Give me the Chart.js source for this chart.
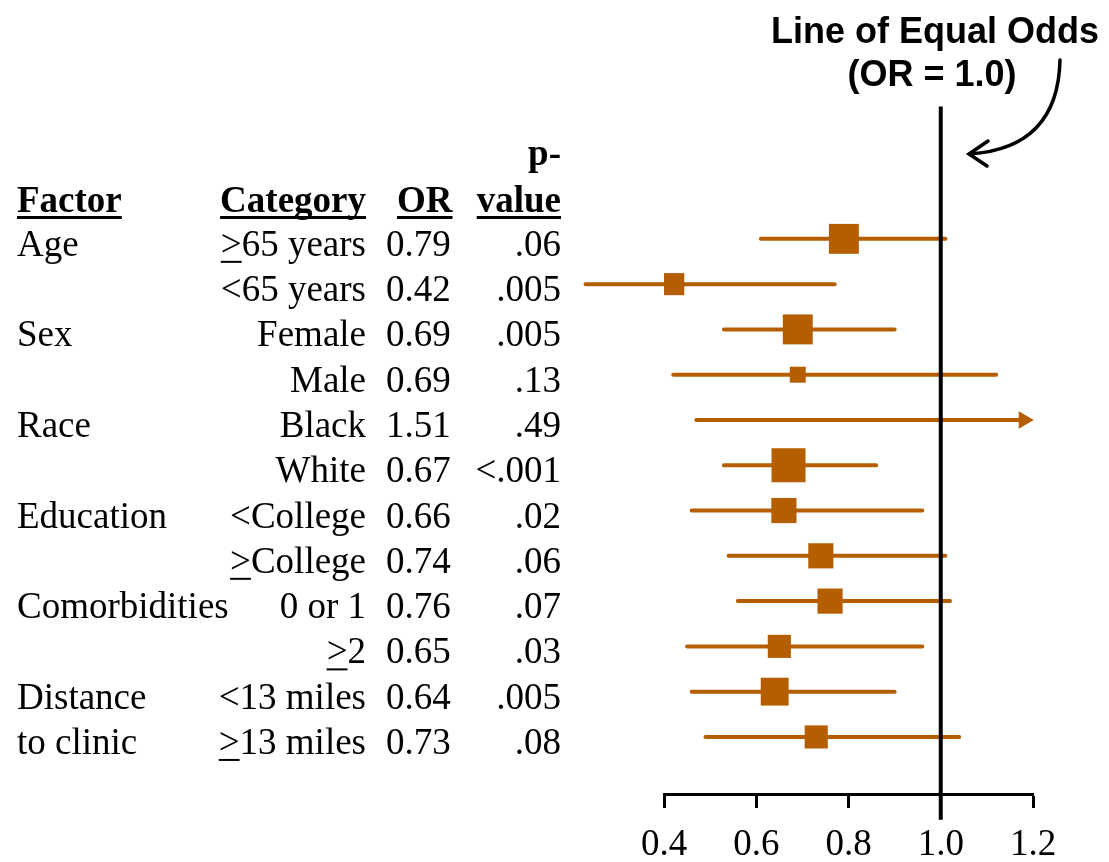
<!DOCTYPE html>
<html>
<head>
<meta charset="utf-8">
<script src="https://cdn.jsdelivr.net/npm/chart.js@4.4.1/dist/chart.umd.min.js"></script>
<style>
body{margin:0;background:#fff;}
#wrap{width:1109px;height:862px;}
</style>
</head>
<body>
<div id="wrap"><canvas id="forest" width="1109" height="862"></canvas></div>
<script>
// data
const factors=['Age','','Sex','','Race','','Education','','Comorbidities','','Distance','to clinic'];
const categories=['≥65 years','<65 years','Female','Male','Black','White','<College','≥College','0 or 1','≥2','<13 miles','≥13 miles'];
const oddsRatios=[0.79,0.42,0.69,0.69,1.51,0.67,0.66,0.74,0.76,0.65,0.64,0.73];
const pValues=['.06','.005','.005','.13','.49','<.001','.02','.06','.07','.03','.005','.08'];
const ciLow=[0.61,0.23,0.53,0.42,0.47,0.53,0.46,0.54,0.56,0.45,0.46,0.49];
const ciHigh=[1.01,0.77,0.90,1.12,null,0.86,0.96,1.01,1.02,0.96,0.90,1.04]; // null = goes off the axis
const weights=[0.88,0.65,0.88,0.47,0.5,1,0.74,0.74,0.74,0.68,0.82,0.68];
const xTicks=[0.4,0.6,0.8,1.0,1.2];
const equalOdds=1.0;

const ORANGE='#b55e00';
const xMin=xTicks[0], xMax=xTicks[xTicks.length-1];

Chart.defaults.font.family='"Liberation Serif"';
Chart.defaults.color='#000';

// datasets: ref line first so it is drawn on top
const datasets=[];
datasets.push({
    data:[{x:equalOdds,y:-2.92},{x:equalOdds,y:12.83}],
    borderColor:'#000',
    borderWidth:4,
    pointRadius:0,
    clip:false
});
datasets.push({
    data:oddsRatios.map((v,i)=>({x:v,y:i})),
    showLine:false,
    pointStyle:'rect',
    pointRadius:weights.map(w=>w*34/Math.SQRT2),
    pointBackgroundColor:ORANGE,
    pointBorderWidth:0
});
ciLow.forEach((lo,i)=>{
    let off=ciHigh[i]===null;
    let hi=off?xMax-0.02:ciHigh[i];
    datasets.push({
        data:[{x:lo,y:i},{x:hi,y:i}],
        borderColor:ORANGE,
        borderWidth:4,
        borderCapStyle:'round',
        pointStyle:'triangle',
        pointRotation:90,
        pointRadius:off?[0,10]:0,
        pointBackgroundColor:ORANGE,
        pointBorderWidth:0,
        clip:false
    });
});

function underline(ctx,x,y,w,h)
{
    ctx.fillRect(x,y,w,h);
}

// text with a leading underlined ">" for the "≥" sign, right aligned
function catText(ctx,txt,right,base)
{
    ctx.textAlign='left';
    if(txt[0]==='≥')
    {
        let rest=txt.slice(1);
        let w1=ctx.measureText('>').width;
        let w=w1+ctx.measureText(rest).width;
        let x0=right-w;
        ctx.fillText('>',x0,base);
        underline(ctx,x0,base+5,w1,2);
        ctx.fillText(rest,x0+w1,base);
    }
    else
    {
        let w=ctx.measureText(txt).width;
        ctx.fillText(txt,right-w,base);
    }
}

const tablePlugin={
    id:'tabla',
    afterDraw(chart){
        const ctx=chart.ctx;
        const ys=chart.scales.y;
        ctx.save();
        ctx.fillStyle='#000';
        ctx.textBaseline='alphabetic';

        // header
        ctx.font='bold 37px "Liberation Serif"';
        const hdr=[['Factor',17,'left'],['Category',366,'right'],['OR',397,'left'],['value',561,'right']];
        hdr.forEach(h=>{
            let w=ctx.measureText(h[0]).width;
            let x0=h[2]==='left'?h[1]:h[1]-w;
            ctx.textAlign='left';
            ctx.fillText(h[0],x0,212);
            underline(ctx,x0,216,w,3);
        });
        ctx.textAlign='right';
        ctx.fillText('p-',561,165);

        // rows
        ctx.font='37px "Liberation Serif"';
        categories.forEach((c,i)=>{
            let base=ys.getPixelForValue(i)+17;
            ctx.textAlign='left';
            if(factors[i]) ctx.fillText(factors[i],17,base);
            catText(ctx,c,366,base);
            ctx.textAlign='left';
            ctx.fillText(oddsRatios[i].toFixed(2),386,base);
            ctx.textAlign='right';
            ctx.fillText(pValues[i],561,base);
        });

        // annotation
        ctx.font='bold 36px "Liberation Sans"';
        ctx.textAlign='center';
        ctx.fillText('Line of Equal Odds',935,43);
        ctx.fillText('(OR = 1.0)',932,86);

        ctx.strokeStyle='#000';
        ctx.lineWidth=3.5;
        ctx.lineCap='round';
        ctx.beginPath();
        ctx.moveTo(1060,60);
        ctx.quadraticCurveTo(1058,148,970,154);
        ctx.stroke();
        ctx.beginPath();
        ctx.moveTo(988,141);
        ctx.lineTo(969,154);
        ctx.lineTo(987,166);
        ctx.stroke();
        ctx.restore();
    }
};

const chart=new Chart(document.getElementById('forest'),{
    type:'line',
    data:{datasets:datasets},
    options:{
        responsive:false,
        animation:false,
        devicePixelRatio:1,
        events:[],
        layout:{padding:{left:664,right:76,top:103,bottom:0}},
        plugins:{legend:{display:false},tooltip:{enabled:false}},
        scales:{
            x:{
                type:'linear',
                min:xMin,
                max:xMax,
                afterBuildTicks:(s)=>{s.ticks=xTicks.map(v=>({value:v}));},
                afterFit:(s)=>{s.height=68;},
                ticks:{
                    callback:(v)=>Number(v).toFixed(1),
                    font:{size:37},
                    color:'#000',
                    padding:15,
                    maxRotation:0
                },
                grid:{drawOnChartArea:false,drawTicks:true,tickLength:14,tickWidth:3,tickColor:'#000'},
                border:{display:true,color:'#000',width:3}
            },
            y:{
                type:'linear',
                display:false,
                reverse:true,
                min:-3,
                max:12.26
            }
        }
    },
    plugins:[tablePlugin]
});
</script>
</body>
</html>
